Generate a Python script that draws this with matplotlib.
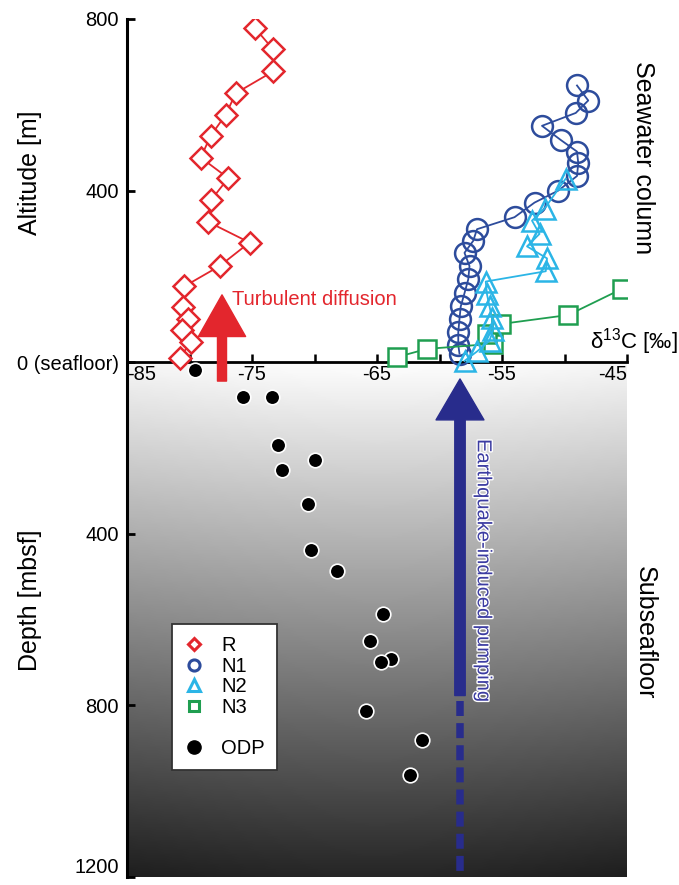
import matplotlib
matplotlib.use("Agg")
import matplotlib.pyplot as plt
import matplotlib.patheffects as pe
import numpy as np
from matplotlib.lines import Line2D
from matplotlib.ticker import MultipleLocator

plt.rcParams['font.family'] = ['Liberation Sans', 'DejaVu Sans']

# ---------------------------------------------
# data : d13C [permil] vs altitude above seafloor [m] (positive)
# and depth below seafloor [mbsf] (stored as negative)
R_d13c = [-74.8, -73.3, -73.3, -76.3, -77.1, -78.3, -79.1, -76.9, -78.3,
          -78.5, -75.2, -77.6, -80.4, -80.5, -80.1, -80.6, -79.9, -80.8]
R_alt = [780, 729, 678, 627, 577, 528, 477, 429, 377,
         327, 279, 224, 177, 128, 100, 75, 46, 10]

N1_d13c = [-49.0, -48.1, -49.1, -51.8, -50.3, -49.0, -48.9, -49.0, -50.5,
           -52.4, -54.0, -57.0, -57.3, -58.0, -57.6, -57.7, -58.0, -58.3,
           -58.4, -58.5, -58.5, -58.4]
N1_alt = [645, 610, 581, 551, 518, 491, 464, 434, 400,
          372, 338, 310, 283, 255, 224, 193, 161, 130,
          101, 70, 40, 20]

N2_d13c = [-49.9, -51.6, -52.6, -52.0, -53.0, -51.4, -51.5, -56.3, -56.2,
           -56.0, -55.8, -55.7, -56.0, -57.0, -58.0]
N2_alt = [428, 358, 330, 299, 270, 242, 212, 188, 158,
          130, 103, 76, 50, 25, 3]

N3_d13c = [-63.4, -61.0, -55.7, -56.2, -55.1, -49.7, -45.4]
N3_alt = [12, 31, 43, 66, 89, 110, 171]

ODP_d13c = [-79.6, -75.7, -73.4, -72.9, -70.0, -72.6, -70.5, -70.3, -68.2,
            -64.5, -65.6, -63.9, -64.7, -65.9, -61.4, -62.4]
ODP_depth = [18, 82, 82, 192, 227, 251, 331, 437, 487,
             586, 649, 692, 698, 813, 880, 963]

ytick_pos = [800, 400, 0, -400, -800, -1200]
ytick_lab = ["800", "400", "0 (seafloor)", "400", "800", "1200"]
xtick_pos = [-85, -75, -65, -55, -45]

c_R, c_N1, c_N2, c_N3 = "#e3262d", "#2d4c9c", "#2bb5e6", "#1f9e50"
c_pump = "#282c8c"

# ---------------------------------------------
fig = plt.figure(figsize=(6.79, 8.85), dpi=100)
ax = fig.add_axes([127 / 679, 8 / 885, 500 / 679, 858 / 885])
ax.set_xlim(-85, -45)
ax.set_ylim(-1200, 800)
ax.patch.set_alpha(0)

# subseafloor gradient
ny, nx = 200, 60
v = np.linspace(0.96, 0.12, ny)[:, None]
h = 0.03 * np.sin(np.linspace(0, np.pi, nx))[None, :]
grad = np.clip(v + h, 0, 1)
ax.imshow(grad, extent=(-85, -45, -1200, -5), aspect="auto", cmap="gray",
          vmin=0, vmax=1, zorder=0)

# spines and ticks
for s in ("top", "right"):
    ax.spines[s].set_visible(False)
ax.spines["bottom"].set_position(("data", 0))
ax.spines["bottom"].set_linewidth(2.0)
ax.spines["left"].set_linewidth(2.2)
ax.spines["bottom"].set_zorder(2)

ax.set_yticks(ytick_pos)
ax.set_yticklabels(ytick_lab)
ax.set_xticks(xtick_pos)
ax.set_xticklabels([str(t) for t in xtick_pos])
ax.xaxis.set_minor_locator(MultipleLocator(5))
ax.tick_params(axis="y", direction="in", length=6, width=2, labelsize=14.5, pad=6)
ax.tick_params(axis="x", which="both", direction="in", length=6, width=1.8,
               labelsize=14.5, pad=2)
labs = ax.get_xticklabels()
labs[0].set_ha("left")
labs[-1].set_ha("right")
ax.get_yticklabels()[-1].set_va("bottom")

# series
ax.plot(R_d13c, R_alt, "-D", color=c_R, mfc="white", mec=c_R, ms=11, mew=1.8,
        lw=1.3, zorder=4)
ax.plot(N1_d13c, N1_alt, "-o", color=c_N1, mfc="none", mec=c_N1, ms=15, mew=1.8,
        lw=1.3, zorder=4)
ax.plot(N2_d13c, N2_alt, "-^", color=c_N2, mfc="none", mec=c_N2, ms=14, mew=1.8,
        lw=1.3, zorder=5)
ax.plot(N3_d13c, N3_alt, "-s", color=c_N3, mfc="white", mec=c_N3, ms=13, mew=1.8,
        lw=1.3, zorder=4)
ax.plot(ODP_d13c, -np.array(ODP_depth), "o", color="black", mec="white",
        ms=10.5, mew=1.2, zorder=4, ls="none")

# arrows
ax.annotate("", xy=(-77.4, 157), xytext=(-77.4, -44),
            arrowprops=dict(arrowstyle="simple,head_length=3.0,head_width=3.4,tail_width=0.65",
                            color=c_R, mutation_scale=10, shrinkA=0, shrinkB=0),
            zorder=6)
ax.text(-76.6, 146, "Turbulent diffusion", color=c_R, fontsize=14.5,
        ha="left", va="center", zorder=6)

ax.annotate("", xy=(-58.36, -39), xytext=(-58.36, -777),
            arrowprops=dict(arrowstyle="simple,head_length=2.95,head_width=3.45,tail_width=0.75",
                            color=c_pump, mutation_scale=10, shrinkA=0, shrinkB=0),
            zorder=3)
ax.plot([-58.36, -58.36], [-789, -1190], color=c_pump, lw=5.4,
        ls=(0, (2.0, 0.95)), dash_capstyle="butt", zorder=3)
ax.text(-56.5, -179, "Earthquake-induced pumping", color="#3c3ca2", fontsize=14.5,
        rotation=270, ha="center", va="top", zorder=6,
        path_effects=[pe.withStroke(linewidth=2, foreground="white")])

# labels
fig.text(30 / 679, 1 - 173 / 885, "Altitude [m]", rotation=90, fontsize=18,
         ha="center", va="center")
fig.text(30 / 679, 1 - 600 / 885, "Depth [mbsf]", rotation=90, fontsize=18,
         ha="center", va="center")
fig.text(643 / 679, 1 - 158 / 885, "Seawater column", rotation=270, fontsize=18,
         ha="center", va="center")
fig.text(645 / 679, 1 - 633 / 885, "Subseafloor", rotation=270, fontsize=18,
         ha="center", va="center")
fig.text(678 / 679, 1 - 342 / 885, r"δ$^{\mathregular{13}}$C [‰]", fontsize=16,
         ha="right", va="center")

# legend
handles = [
    Line2D([], [], marker="D", ls="none", mfc="white", mec=c_R, ms=6.5, mew=2.2),
    Line2D([], [], marker="o", ls="none", mfc="white", mec=c_N1, ms=8, mew=2.2),
    Line2D([], [], marker="^", ls="none", mfc="white", mec=c_N2, ms=9, mew=2.2),
    Line2D([], [], marker="s", ls="none", mfc="white", mec=c_N3, ms=7, mew=2.2),
    Line2D([], [], ls="none"),
    Line2D([], [], marker="o", ls="none", color="black", ms=9.5),
]
leg = ax.legend(handles, ["R", "N1", "N2", "N3", "", "ODP"], loc="upper left",
                bbox_to_anchor=(172 / 679, 1 - 624 / 885),
                bbox_transform=fig.transFigure, borderaxespad=0,
                fontsize=14.5, frameon=True, fancybox=False, framealpha=1,
                edgecolor="#333333", handlelength=1.0, handletextpad=0.85,
                labelspacing=0.08, borderpad=0.6)
leg.get_frame().set_linewidth(1.3)
leg.set_zorder(7)

fig.savefig("out.png", dpi=100)
